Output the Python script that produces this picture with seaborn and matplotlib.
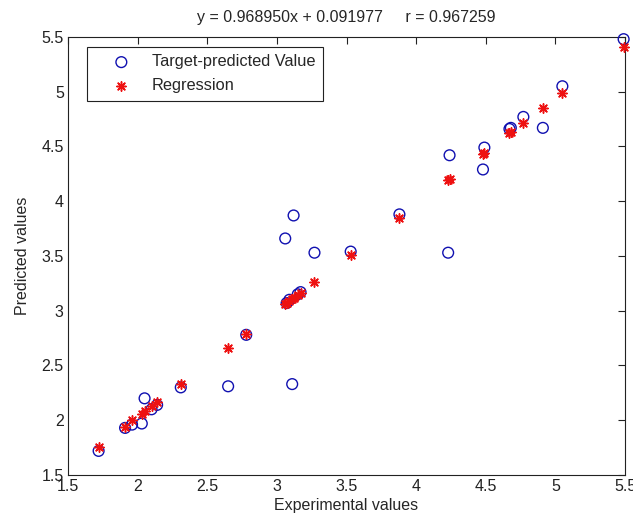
import numpy as np
import pandas as pd
import matplotlib
matplotlib.use("Agg")
import matplotlib.pyplot as plt
import seaborn as sns

# values
experimental = [1.72, 1.91, 1.96, 2.03, 2.05, 2.10, 2.14, 2.31, 2.65, 2.78,
                3.06, 3.07, 3.09, 3.11, 3.12, 3.15, 3.17, 3.27, 3.53, 3.88,
                4.23, 4.24, 4.48, 4.49, 4.67, 4.68, 4.77, 4.91, 5.05, 5.49]
predicted = [1.72, 1.93, 1.96, 1.97, 2.20, 2.10, 2.14, 2.30, 2.31, 2.78,
             3.66, 3.07, 3.10, 2.33, 3.87, 3.15, 3.17, 3.53, 3.54, 3.88,
             3.53, 4.42, 4.29, 4.49, 4.66, 4.67, 4.77, 4.67, 5.05, 5.48]
regression = [1.76, 1.94, 2.00, 2.06, 2.08, 2.13, 2.17, 2.33, 2.66, 2.79,
              3.06, 3.07, 3.09, 3.11, 3.12, 3.14, 3.16, 3.26, 3.51, 3.85,
              4.19, 4.20, 4.43, 4.44, 4.62, 4.63, 4.71, 4.85, 4.99, 5.41]
ticks = [1.5, 2, 2.5, 3, 3.5, 4, 4.5, 5, 5.5]
tick_labels = ["1.5", "2", "2.5", "3", "3.5", "4", "4.5", "5", "5.5"]
title = "y = 0.968950x + 0.091977     r = 0.967259"

df = pd.DataFrame({"experimental": experimental,
                   "predicted": predicted,
                   "regression": regression})

sns.set_style("white")
plt.rcParams["font.family"] = ["Liberation Sans", "DejaVu Sans"]
plt.rcParams["font.size"] = 11.5

fig = plt.figure(figsize=(6.33, 5.23), dpi=100)
ax = fig.add_axes([0.1074, 0.0918, 0.88, 0.8375])

sns.scatterplot(data=df, x="experimental", y="predicted", ax=ax,
                marker="o", s=60, facecolors="none", edgecolor="#1010b0",
                linewidth=1.0, label="Target-predicted Value", zorder=3,
                clip_on=False)
sns.scatterplot(data=df, x="experimental", y="regression", ax=ax,
                marker=(8, 2, 0), s=45, color="#ee1111", edgecolor="#ee1111",
                linewidth=1.1, label="Regression", zorder=4, clip_on=False)

ax.set_xlim(1.5, 5.5)
ax.set_ylim(1.5, 5.5)
ax.set_xticks(ticks)
ax.set_xticklabels(tick_labels)
ax.set_yticks(ticks)
ax.set_yticklabels(tick_labels)
ax.tick_params(direction="in", length=5, width=0.8, top=True, right=True,
               labelsize=11.5, colors="#222222", pad=3)
for sp in ax.spines.values():
    sp.set_visible(True)
    sp.set_color("#222222")
    sp.set_linewidth(0.8)

ax.set_xlabel("Experimental values", fontsize=11.5, labelpad=3)
ax.set_ylabel("Predicted values", fontsize=11.5, labelpad=8)
ax.set_title(title, fontsize=11.5, pad=11)

leg = ax.legend(loc="upper left", bbox_to_anchor=(0.034, 0.977),
                frameon=True, fancybox=False, framealpha=1,
                edgecolor="#222222", fontsize=11.8, borderpad=0.45,
                handletextpad=0.2, handlelength=3.3, labelspacing=0.55,
                borderaxespad=0)
leg.get_frame().set_linewidth(0.8)

fig.savefig("out.png", dpi=100)
